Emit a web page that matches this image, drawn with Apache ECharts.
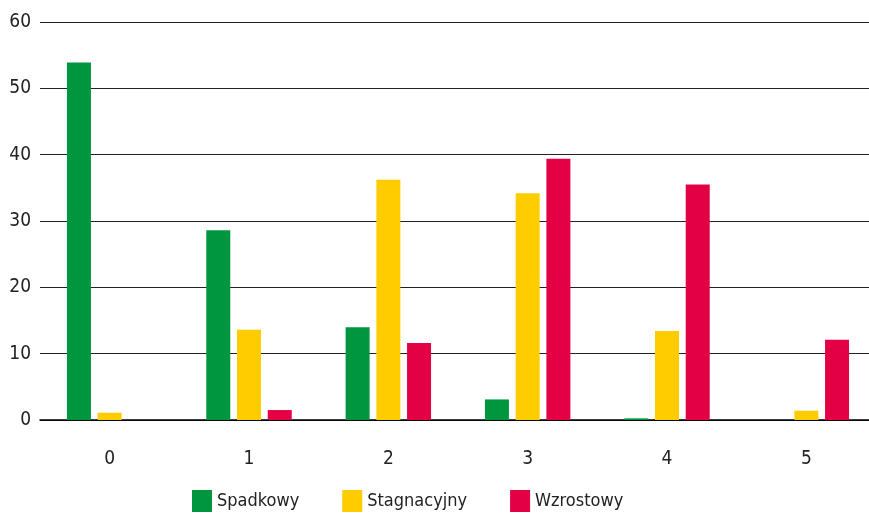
<!DOCTYPE html>
<html><head><meta charset="utf-8">
<script src="https://cdn.jsdelivr.net/npm/echarts@6/dist/echarts.min.js"></script>
<style>html,body{margin:0;padding:0;background:#fff;overflow:hidden}#c{width:876px;height:517px}</style>
</head><body><div id="c"></div>
<script>
const categories = ['0','1','2','3','4','5'];
const spadkowy = [53.9, 28.6, 14.0, 3.1, 0.25, 0];
const stagnacyjny = [1.1, 13.6, 36.2, 34.2, 13.4, 1.4];
const wzrostowy = [0, 1.5, 11.6, 39.4, 35.5, 12.1];
const seriesNames = ['Spadkowy', 'Stagnacyjny', 'Wzrostowy'];
const colors = ['#009640', '#FFCC00', '#E30045'];
const font = '"DejaVu Sans Condensed", "Liberation Sans Narrow", sans-serif';
const chart = echarts.init(document.getElementById('c'));
chart.setOption({
  animation: false,
  color: colors,
  textStyle: {fontFamily: font},
  grid: {left: 40, right: 0, top: 22, bottom: 97, containLabel: false},
  legend: {
    bottom: 0, left: 187, itemWidth: 20, itemHeight: 22, itemGap: 43,
    icon: 'rect',
    textStyle: {fontFamily: font, fontSize: 18, color: '#222'},
    data: seriesNames
  },
  xAxis: {
    type: 'category', data: categories,
    axisLine: {lineStyle: {color: '#000', width: 1.5}},
    axisTick: {show: false},
    axisLabel: {fontFamily: font, fontSize: 19, color: '#222', margin: 30}
  },
  yAxis: {
    type: 'value', min: 0, max: 60, interval: 10,
    axisLine: {show: false}, axisTick: {show: false},
    splitLine: {lineStyle: {color: '#222', width: 1}},
    axisLabel: {fontFamily: font, fontSize: 19, color: '#222', margin: 9}
  },
  series: [
    {name: seriesNames[0], type: 'bar', data: spadkowy, barWidth: 24, barGap: '28%'},
    {name: seriesNames[1], type: 'bar', data: stagnacyjny, barWidth: 24, barGap: '28%'},
    {name: seriesNames[2], type: 'bar', data: wzrostowy, barWidth: 24, barGap: '28%'}
  ]
});
</script></body></html>
